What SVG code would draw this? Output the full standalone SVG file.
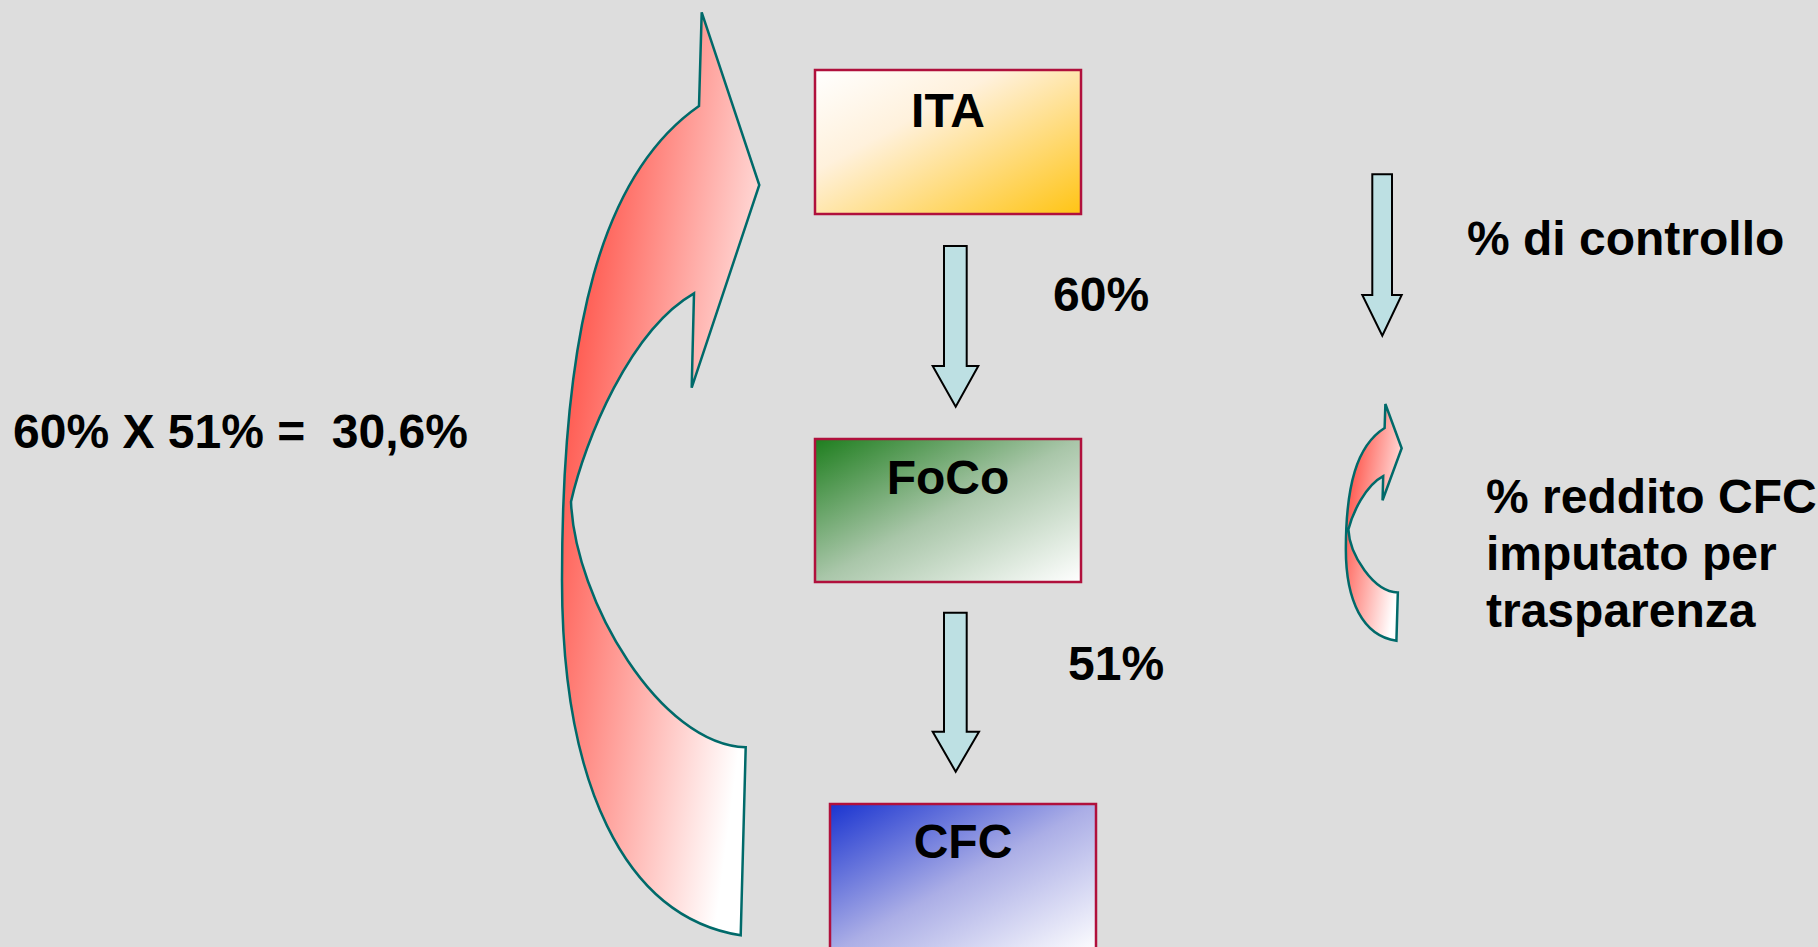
<svg xmlns="http://www.w3.org/2000/svg" xmlns:xlink="http://www.w3.org/1999/xlink" width="1818" height="947" viewBox="0 0 1818 947">
  <style>
    .lbl { font-family: "Liberation Sans", Arial, sans-serif; font-weight: bold; font-size: 48px; fill: #000; }
    .mid { text-anchor: middle; }
    .box { stroke: #B0103C; stroke-width: 2.5; }
    .down { fill: #BDE0E3; stroke: #000; stroke-width: 2; stroke-linejoin: miter; }
    .curl { stroke: #006A6A; stroke-width: 2.5; stroke-linejoin: miter; vector-effect: non-scaling-stroke; }
  </style>
  <defs>
    <linearGradient id="gITA" x1="0" y1="0" x2="1" y2="1">
      <stop offset="0" stop-color="#FFFFFF"/>
      <stop offset="0.35" stop-color="#FFF1DC"/>
      <stop offset="1" stop-color="#FFC414"/>
    </linearGradient>
    <linearGradient id="gFoCo" x1="0" y1="0" x2="1" y2="1">
      <stop offset="0" stop-color="#1E7E1E"/>
      <stop offset="0.5" stop-color="#A9C6A9"/>
      <stop offset="1" stop-color="#FFFFFF"/>
    </linearGradient>
    <linearGradient id="gCFC" x1="0" y1="0" x2="1" y2="1">
      <stop offset="0" stop-color="#1A34D0"/>
      <stop offset="0.5" stop-color="#ABAEE6"/>
      <stop offset="1" stop-color="#FFFFFF"/>
    </linearGradient>
    <linearGradient id="gCurl" gradientUnits="userSpaceOnUse" x1="565" y1="400" x2="782" y2="429">
      <stop offset="0" stop-color="#FF5A50"/>
      <stop offset="1" stop-color="#FFFFFF"/>
    </linearGradient>
    <!-- curved "return" arrow, drawn once and reused at legend scale -->
    <path id="curlShape" class="curl" fill="url(#gCurl)"
          d="M699,106 C600.6,174.4 562,330 562,580 C562,780 622.3,916.5 740.7,935.3 L745.7,747.3 C660,745 575,600 571,501.7 C585,440 630,330 694,293.3 L691.7,387.7 L759.3,185 L701.7,12.3 Z"/>
  </defs>

  <rect x="0" y="0" width="1818" height="947" fill="#DDDDDD"/>

  <g id="connectors">
    <path class="down" d="M944,246 H966.7 V366 H978.3 L955.7,406.7 L932.7,366 H944 Z"/>
    <path class="down" d="M944,612.7 H966.7 V731.7 H979 L955.7,771.7 L932.7,731.7 H944 Z"/>
    <use xlink:href="#curlShape" href="#curlShape"/>
  </g>

  <g id="node-ita">
    <rect class="box" x="815" y="70" width="266" height="144" fill="url(#gITA)"/>
    <text class="lbl mid" x="948" y="127">ITA</text>
  </g>

  <g id="node-foco">
    <rect class="box" x="815" y="439" width="266" height="143" fill="url(#gFoCo)"/>
    <text class="lbl mid" x="948" y="494">FoCo</text>
  </g>

  <g id="node-cfc">
    <rect class="box" x="830" y="804" width="266" height="150" fill="url(#gCFC)"/>
    <text class="lbl mid" x="963" y="858">CFC</text>
  </g>

  <g id="labels">
    <text class="lbl" x="1053" y="311">60%</text>
    <text class="lbl" x="1068" y="680">51%</text>
    <text class="lbl" x="13" y="448" xml:space="preserve">60% X 51% =  30,6%</text>
  </g>

  <g id="legend">
    <path class="down" d="M1372.3,174.3 H1392 V295 H1401.7 L1382.3,335.7 L1362.3,295 H1372.3 Z"/>
    <text class="lbl" x="1467" y="255">% di controllo</text>
    <use xlink:href="#curlShape" href="#curlShape" transform="matrix(0.283 0 0 0.2565 1186.8 400.85)"/>
    <text class="lbl" x="1486" y="513">% reddito CFC</text>
    <text class="lbl" x="1486" y="570">imputato per</text>
    <text class="lbl" x="1486" y="627">trasparenza</text>
  </g>
</svg>
